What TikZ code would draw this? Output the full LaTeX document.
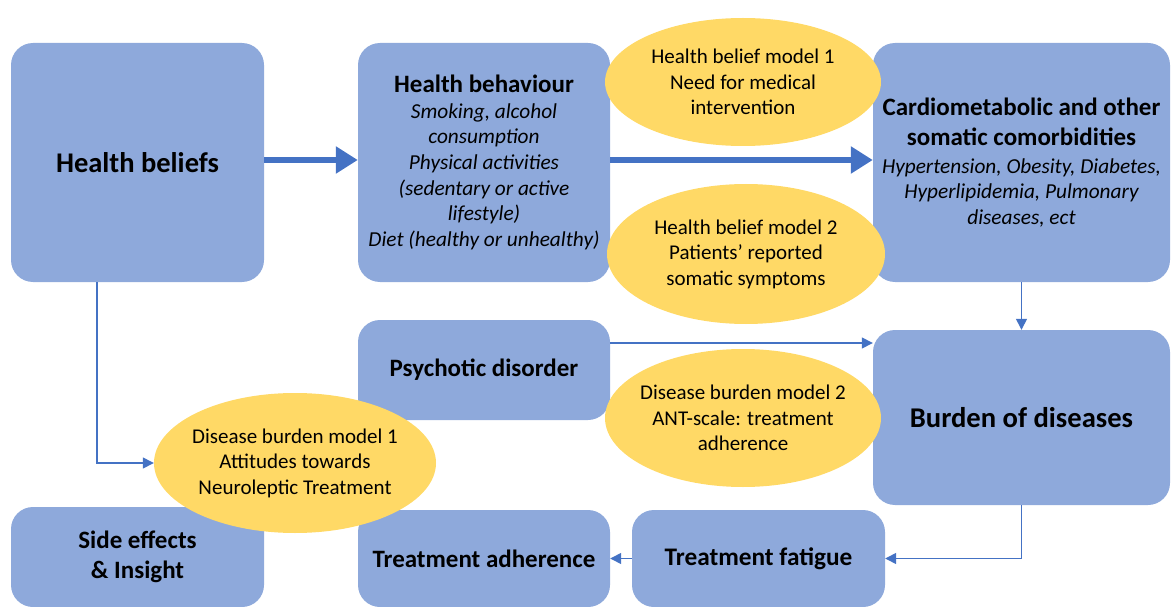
\documentclass[tikz,border=0pt]{standalone}
\usepackage{fontspec}
\setmainfont{Carlito}
\usetikzlibrary{arrows.meta,shapes.geometric}
\definecolor{boxblue}{HTML}{8EA9DB}
\definecolor{ellyellow}{HTML}{FFD966}
\definecolor{arrblue}{HTML}{4472C4}
\newcommand{\cardhead}[1]{{\upshape\bfseries\fontsize{25}{30}\selectfont #1}}
\tikzset{
  box/.style={draw=none,fill=boxblue,rounded corners=22pt,align=center,inner sep=2pt},
  ell/.style={ellipse,draw=none,fill=ellyellow,align=center,inner sep=-40pt,
     font=\fontsize{21}{25.5}\selectfont},
  thick arrow/.style={arrblue,line width=6pt,-{Triangle[length=22pt,width=26pt]}},
  thin arrow/.style={arrblue,line width=1.4pt,-{Triangle[length=11pt,width=11pt]}},
}
\begin{document}
\begin{tikzpicture}[x=1pt,y=-1pt]
\useasboundingbox (0,0) rectangle (1171,607);
% boxes
\node[box,minimum width=253pt,minimum height=239pt,font=\bfseries\fontsize{28.5}{30}\selectfont] (hb) at (137.5,162.5) {Health beliefs};
\node[box,minimum width=252pt,minimum height=239pt,font=\itshape\fontsize{21.3}{25.6}\selectfont] (beh) at (484,162.5)
  {{\upshape\bfseries\fontsize{25}{25.6}\selectfont Health behaviour}\\Smoking, alcohol\\consumption\\Physical activities\\(sedentary or active\\lifestyle)\\Diet (healthy or unhealthy)};
\node[box,minimum width=297pt,minimum height=239pt,font=\itshape\fontsize{21.3}{25.5}\selectfont] (card) at (1021.5,162.5)
  {\cardhead{Cardiometabolic and other}\\[4.5pt]\cardhead{somatic comorbidities}\\[2.5pt]Hypertension, Obesity, Diabetes,\\Hyperlipidemia, Pulmonary\\diseases, ect};
\node[box,minimum width=252pt,minimum height=100pt,font=\bfseries\fontsize{25}{28}\selectfont] (psy) at (484,370) {Psychotic disorder};
\node[box,minimum width=297pt,minimum height=175pt,font=\bfseries\fontsize{28.6}{30}\selectfont] (bur) at (1021.5,417.5) {Burden of diseases};
\node[box,minimum width=253pt,minimum height=100pt,font=\bfseries\fontsize{25}{30}\selectfont] (side) at (137.5,557) {Side effects\\\& Insight};
\node[box,minimum width=252pt,minimum height=97pt,font=\bfseries\fontsize{25}{28}\selectfont] (adh) at (484,558.5) {Treatment adherence};
\node[box,minimum width=253pt,minimum height=97pt,font=\bfseries\fontsize{25.3}{28}\selectfont] (fat) at (758.5,558.5) {Treatment fatigue};
% ellipses
\node[ell,minimum width=276pt,minimum height=128pt] (m1) at (743,82) {Health belief model 1\\Need for medical\\intervention};
\node[ell,minimum width=278pt,minimum height=140pt] (m2) at (746,254) {Health belief model 2\\Patients’ reported\\somatic symptoms};
\node[ell,minimum width=276pt,minimum height=138pt] (d2) at (743,418) {Disease burden model 2\\ANT-scale: treatment\\adherence};
\node[ell,minimum width=282pt,minimum height=140pt] (d1) at (295,463) {Disease burden model 1\\Attitudes towards\\Neuroleptic Treatment};
% connectors
\draw[thick arrow] (hb.east |- 0,160) -- (beh.west |- 0,160);
\draw[thick arrow] (beh.east |- 0,160) -- (card.west |- 0,160);
\draw[thin arrow] (card.south) -- (bur.north);
\draw[thin arrow] (psy.east |- 0,343) -- (bur.west |- 0,343);
\draw[thin arrow] (hb.south -| 97,0) |- (d1.west);
\draw[thin arrow] (bur.south) |- (fat.east);
\draw[thin arrow] (fat.west) -- (adh.east);
\end{tikzpicture}
\end{document}
